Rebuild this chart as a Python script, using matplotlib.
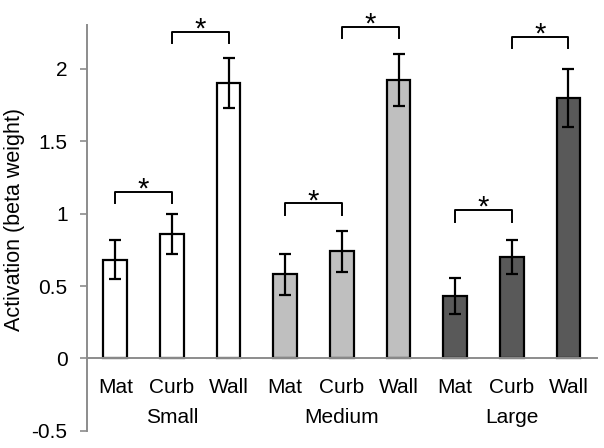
import matplotlib
matplotlib.use("Agg")
import matplotlib.pyplot as plt

plt.rcParams['font.family'] = ['Liberation Sans', 'DejaVu Sans']

# données
conditions = ["Mat", "Curb", "Wall"]
tailles = ["Small", "Medium", "Large"]
couleurs = ["#FFFFFF", "#BFBFBF", "#595959"]

activation_small = [0.68, 0.86, 1.90]
activation_medium = [0.58, 0.74, 1.92]
activation_large = [0.43, 0.70, 1.80]

erreur_small = [0.135, 0.14, 0.175]
erreur_medium = [0.14, 0.14, 0.18]
erreur_large = [0.125, 0.12, 0.20]

# comparaisons significatives (indice barre gauche, indice barre droite, hauteur du crochet)
comparaisons = [
    (0, 1, 1.15), (1, 2, 2.255),
    (3, 4, 1.07), (4, 5, 2.29),
    (6, 7, 1.025), (7, 8, 2.22),
]

valeurs = activation_small + activation_medium + activation_large
erreurs = erreur_small + erreur_medium + erreur_large
fills = [c for c in couleurs for _ in conditions]
positions = list(range(len(valeurs)))

fig = plt.figure(figsize=(6.04, 4.48), dpi=100)
ax = fig.add_axes([0.144, 0.038, 0.844, 0.906])

ax.bar(positions, valeurs, width=0.42, color=fills, edgecolor="black", linewidth=1.6, zorder=2)
ax.errorbar(positions, valeurs, yerr=erreurs, fmt="none", ecolor="black",
            elinewidth=1.6, capsize=4, capthick=1.6, zorder=3)

for g, d, h in comparaisons:
    jambe = 0.08
    ax.plot([g, g, d, d], [h - jambe, h, h, h - jambe], color="black", lw=1.4, clip_on=False)
    ax.text((g + d) / 2, h - 0.04, "*", ha="center", va="baseline", fontsize=21, clip_on=False)

ax.set_xlim(-0.5, 8.5)
ax.set_ylim(-0.5, 2.3)
ax.set_yticks([-0.5, 0, 0.5, 1, 1.5, 2])
ax.set_yticklabels(["-0.5", "0", "0.5", "1", "1.5", "2"])
ax.set_xticks([])

for s in ["top", "right"]:
    ax.spines[s].set_visible(False)
ax.spines["bottom"].set_position(("data", 0))
ax.spines["bottom"].set_color("#8C8C8C")
ax.spines["left"].set_color("#8C8C8C")
ax.spines["bottom"].set_linewidth(1.4)
ax.spines["left"].set_linewidth(1.4)
ax.tick_params(axis="y", colors="#8C8C8C", length=5, width=1.2, labelsize=15, labelcolor="black", pad=9)

for i, p in enumerate(positions):
    ax.text(p, -0.2, conditions[i % 3], ha="center", va="center", fontsize=15)
for k, t in enumerate(tailles):
    ax.text(3 * k + 1, -0.41, t, ha="center", va="center", fontsize=15)

ax.set_ylabel("Activation (beta weight)", fontsize=15.5)
ax.yaxis.set_label_coords(-0.122, 0.52)

fig.savefig("out.png", dpi=100)
